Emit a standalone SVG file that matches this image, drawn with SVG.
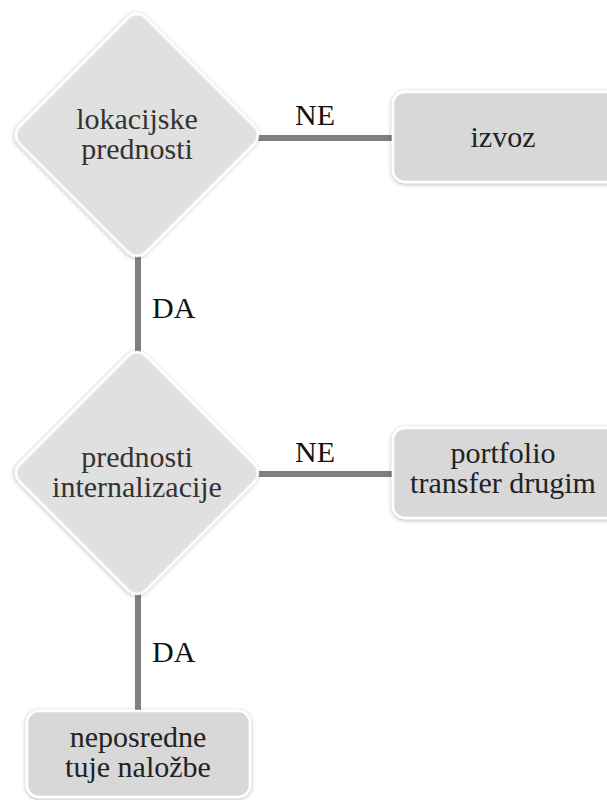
<svg xmlns="http://www.w3.org/2000/svg" width="607" height="800" viewBox="0 0 607 800">
<defs>
<filter id="sh" x="-20%" y="-20%" width="140%" height="140%">
<feDropShadow dx="0" dy="1" stdDeviation="2" flood-color="#000" flood-opacity="0.3"/>
</filter>
</defs>
<style>
.dia{fill:#e0e0e0;stroke:#fff;stroke-width:2.5;filter:url(#sh)}
.box{fill:#d8d8d8;stroke:#fff;stroke-width:2.5;filter:url(#sh)}
.t{font-family:'Liberation Serif','Times New Roman',serif;font-size:30px;fill:#222;text-anchor:middle}
.dt{fill:#333}
.lbl{font-family:'Liberation Serif','Times New Roman',serif;font-size:30px;fill:#111}
.c{stroke:#808080;stroke-width:6;fill:none}
</style>
<rect width="607" height="800" fill="#fff"/>
<g id="connectors">
<line class="c" x1="258" y1="138" x2="395" y2="138"/>
<line class="c" x1="138" y1="252" x2="138" y2="356"/>
<line class="c" x1="258" y1="474" x2="395" y2="474"/>
<line class="c" x1="138" y1="590" x2="138" y2="713"/>
<text class="lbl" x="315" y="125" text-anchor="middle">NE</text>
<text class="lbl" x="152" y="318">DA</text>
<text class="lbl" x="315" y="462" text-anchor="middle">NE</text>
<text class="lbl" x="152" y="662">DA</text>
</g>
<g id="n1">
<rect class="dia" x="-89" y="-89" width="178" height="178" rx="12" transform="translate(137,135) rotate(45)"/>
<text class="t dt" x="137" y="129">lokacijske</text>
<text class="t dt" x="137" y="159">prednosti</text>
</g>
<g id="n2">
<rect class="box" x="393" y="92" width="240" height="90" rx="12"/>
<text class="t" x="503" y="147">izvoz</text>
</g>
<g id="n3">
<rect class="dia" x="-89" y="-89" width="178" height="178" rx="12" transform="translate(137,473) rotate(45)"/>
<text class="t dt" x="137" y="467">prednosti</text>
<text class="t dt" x="137" y="497">internalizacije</text>
</g>
<g id="n4">
<rect class="box" x="393" y="428" width="240" height="90" rx="12"/>
<text class="t" x="503" y="463">portfolio</text>
<text class="t" x="503" y="493">transfer drugim</text>
</g>
<g id="n5">
<rect class="box" x="27" y="711" width="223" height="86" rx="12"/>
<text class="t" x="138" y="747">neposredne</text>
<text class="t" x="138" y="777">tuje naložbe</text>
</g>
</svg>
